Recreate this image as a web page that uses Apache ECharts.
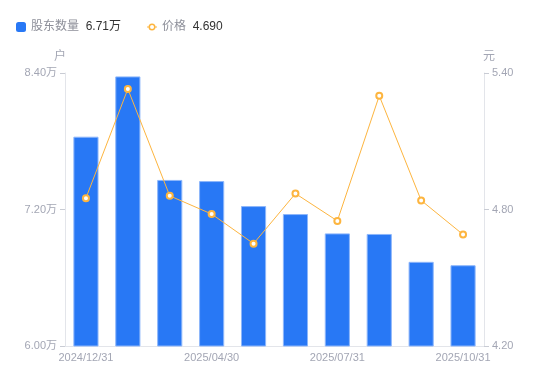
<!DOCTYPE html>
<html>
<head>
<meta charset="utf-8">
<script src="https://cdn.jsdelivr.net/npm/echarts@6/dist/echarts.min.js"></script>
<style>
  html, body { margin: 0; padding: 0; background: #fff; }
  #chart { width: 550px; height: 381px; }
</style>
</head>
<body>
<div id="chart"></div>
<script>
// 股东户数 (万户) vs 股价 (元)
const dates = [
  '2024/12/31', '2025/01/20', '2025/03/31', '2025/04/30', '2025/05/20',
  '2025/06/30', '2025/07/31', '2025/08/29', '2025/09/30', '2025/10/31'
];
const holders = [7.84, 8.37, 7.46, 7.45, 7.23, 7.16, 6.99, 6.985, 6.74, 6.71];
const prices = [4.85, 5.33, 4.86, 4.78, 4.65, 4.87, 4.75, 5.30, 4.84, 4.69];

const labelColor = '#a3a6b4';
const axisLineColor = '#e3e5ea';
const tickColor = '#c9ccd4';
const font = '"Liberation Sans", Arial, "Noto Sans CJK SC", sans-serif';

// legend icon for the price line: ring with short stubs
const lineIcon = 'path://M0,4.4 L2.2,4.4 L2.2,5.6 L0,5.6 Z M7.8,4.4 L10,4.4 L10,5.6 L7.8,5.6 Z ' +
  'M5,1.5 A3.5,3.5 0 1 1 4.99,1.5 Z M5,3 A2,2 0 1 0 5.01,3 Z';

const chart = echarts.init(document.getElementById('chart'));

const lastHolders = holders[holders.length - 1];
const lastPrice = prices[prices.length - 1];

chart.setOption({
  animation: false,
  backgroundColor: '#fff',
  textStyle: { fontFamily: font },
  legend: {
    left: 11,
    top: 16,
    itemWidth: 10,
    itemHeight: 10,
    itemGap: 26,
    formatter: (name) => {
      const v = name === '股东数量' ? lastHolders.toFixed(2) + '万' : lastPrice.toFixed(3);
      return '{n|' + name + '}  {v|' + v + '}';
    },
    textStyle: {
      rich: {
        n: { color: '#8d8f99', fontSize: 12, fontFamily: font },
        v: { color: '#333', fontSize: 12, fontFamily: font }
      }
    },
    data: [
      { name: '股东数量', icon: 'roundRect', itemStyle: { borderWidth: 0 } },
      { name: '价格', icon: lineIcon, itemStyle: { color: '#fdb53f', borderWidth: 0 } }
    ]
  },
  grid: { left: 65, right: 66, top: 73, bottom: 35 },
  xAxis: {
    type: 'category',
    data: dates,
    axisLine: { lineStyle: { color: axisLineColor } },
    axisTick: { show: false },
    axisLabel: { color: labelColor, fontSize: 11, interval: 2, margin: 6 }
  },
  yAxis: [
    {
      type: 'value',
      name: '户',
      nameTextStyle: { color: labelColor, fontSize: 12, padding: [0, 10, 0, 0] },
      nameGap: 10,
      min: 6,
      max: 8.4,
      interval: 1.2,
      axisLine: { show: true, lineStyle: { color: axisLineColor } },
      axisTick: { show: true, length: 5, lineStyle: { color: tickColor } },
      splitLine: { show: false },
      axisLabel: { color: labelColor, fontSize: 11, margin: 8, formatter: (v) => v.toFixed(2) + '万' }
    },
    {
      type: 'value',
      name: '元',
      nameTextStyle: { color: labelColor, fontSize: 12, padding: [0, 0, 0, 10] },
      nameGap: 10,
      min: 4.2,
      max: 5.4,
      interval: 0.6,
      axisLine: { show: true, lineStyle: { color: axisLineColor } },
      axisTick: { show: true, length: 5, lineStyle: { color: tickColor } },
      splitLine: { show: false },
      axisLabel: { color: labelColor, fontSize: 11, margin: 8, formatter: (v) => v.toFixed(2) }
    }
  ],
  series: [
    {
      name: '股东数量',
      type: 'bar',
      data: holders,
      barWidth: '60%',
      itemStyle: { color: '#2878f5', borderColor: '#8db6fa', borderWidth: 1 }
    },
    {
      name: '价格',
      type: 'line',
      yAxisIndex: 1,
      data: prices,
      symbol: 'emptyCircle',
      symbolSize: 6,
      lineStyle: { color: '#fdb53f', width: 1 },
      itemStyle: { color: '#fdb53f', borderWidth: 2 }
    }
  ]
});

window.addEventListener('resize', () => chart.resize());
</script>
</body>
</html>
